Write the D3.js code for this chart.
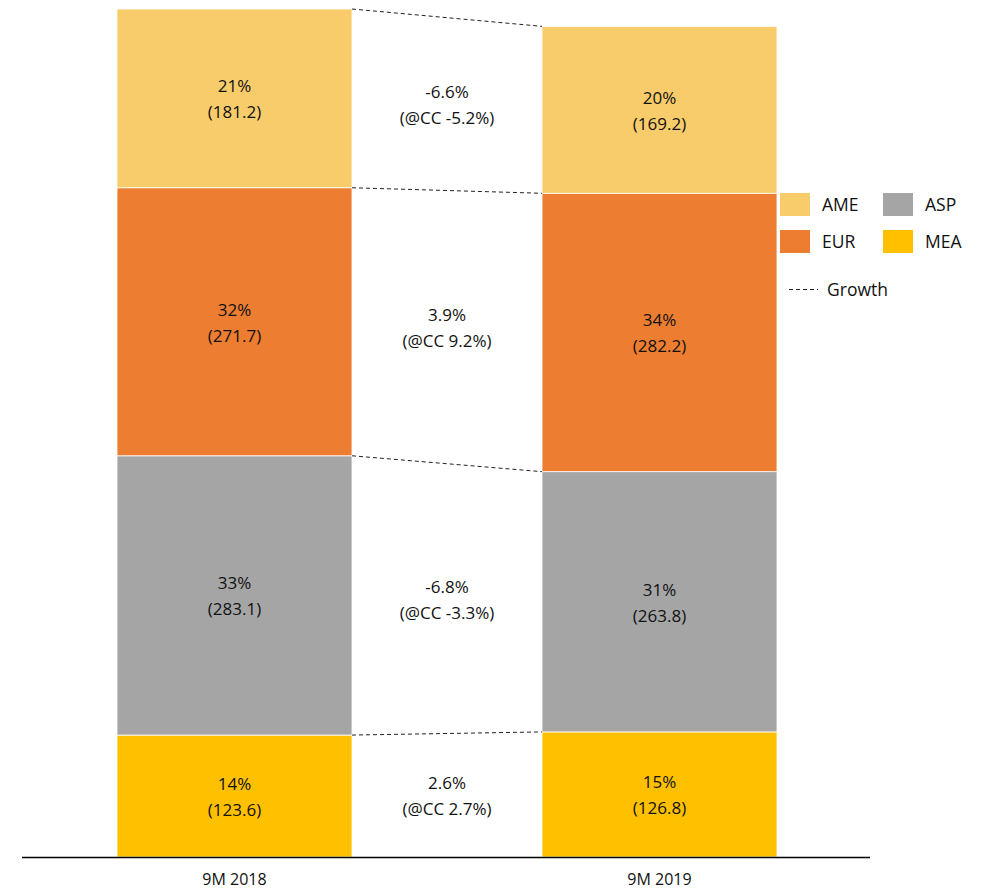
<!DOCTYPE html>
<html><head><meta charset="utf-8">
<script src="https://cdn.jsdelivr.net/npm/d3@7"></script>
<style>body{margin:0;background:#fff}svg{display:block}text{font-family:"Open Sans","Noto Sans",sans-serif;fill:#111}</style>
</head><body><svg id="c" width="984" height="890"></svg>
<script>
const periods = ["9M 2018", "9M 2019"];
const regions = ["MEA", "ASP", "EUR", "AME"]; // bottom to top
const values2018 = [123.6, 283.1, 271.7, 181.2];
const values2019 = [126.8, 263.8, 282.2, 169.2];
const shares2018 = ["14%", "33%", "32%", "21%"];
const shares2019 = ["15%", "31%", "34%", "20%"];
const growth = ["2.6%", "-6.8%", "3.9%", "-6.6%"];
const growthCC = ["(@CC 2.7%)", "(@CC -3.3%)", "(@CC 9.2%)", "(@CC -5.2%)"];
const colors = {AME:"#F9CC6B", EUR:"#ED7D31", ASP:"#A5A5A5", MEA:"#FFC000"};
const legendOrder = ["AME", "ASP", "EUR", "MEA"];

const svg = d3.select("#c");
const total2018 = d3.sum(values2018);
const y = d3.scaleLinear().domain([0, total2018]).range([857, 9]);
const xs = d3.scalePoint().domain(periods).range([117, 542]);
const bw = 235;
const fs = 17;

const seriesVals = [values2018, values2019];
const seriesShares = [shares2018, shares2019];
const stacks = seriesVals.map(v => {
  let acc = 0; return v.map(d => { const s = {y0: acc, y1: acc + d, v: d}; acc += d; return s; });
});

periods.forEach((p, pi) => {
  const g = svg.append("g");
  stacks[pi].forEach((s, i) => {
    g.append("rect").attr("x", xs(p)).attr("width", bw)
      .attr("y", y(s.y1)).attr("height", y(s.y0) - y(s.y1))
      .attr("fill", colors[regions[i]]).attr("stroke", "#fff").attr("stroke-width", 0.8);
    const cy = (y(s.y0) + y(s.y1)) / 2;
    const t = g.append("text").attr("text-anchor", "middle").attr("font-size", fs);
    t.append("tspan").attr("x", xs(p) + bw/2).attr("y", cy - 6).text(seriesShares[pi][i]);
    t.append("tspan").attr("x", xs(p) + bw/2).attr("y", cy + 20).text("(" + s.v.toFixed(1) + ")");
  });
});

// growth connectors
regions.forEach((r, i) => {
  const a = stacks[0][i], b = stacks[1][i];
  svg.append("line").attr("x1", xs(periods[0]) + bw).attr("x2", xs(periods[1]))
    .attr("y1", y(a.y1)).attr("y2", y(b.y1))
    .attr("stroke", "#222").attr("stroke-width", 1).attr("stroke-dasharray", "4,3");
  const cy = ((y(a.y0) + y(a.y1)) / 2 + (y(b.y0) + y(b.y1)) / 2) / 2;
  const cx = (xs(periods[0]) + bw + xs(periods[1])) / 2;
  const t = svg.append("text").attr("text-anchor", "middle").attr("font-size", fs);
  t.append("tspan").attr("x", cx).attr("y", cy - 6).text(growth[i]);
  t.append("tspan").attr("x", cx).attr("y", cy + 20).text(growthCC[i]);
});

// baseline axis
svg.append("line").attr("x1", 22).attr("x2", 870).attr("y1", 857.5).attr("y2", 857.5)
  .attr("stroke", "#000").attr("stroke-width", 1.5);
periods.forEach(p => {
  svg.append("text").attr("x", xs(p) + bw/2).attr("y", 885).attr("text-anchor", "middle")
    .attr("font-size", 16).text(p);
});

// legend
legendOrder.forEach((r, i) => {
  const lx = 780 + (i % 2) * 103, ly = 193 + Math.floor(i / 2) * 37;
  svg.append("rect").attr("x", lx).attr("y", ly).attr("width", 30).attr("height", 23).attr("fill", colors[r]);
  svg.append("text").attr("x", lx + 42).attr("y", ly + 18).attr("font-size", 17.5).text(r);
});
svg.append("line").attr("x1", 789).attr("x2", 818).attr("y1", 289.5).attr("y2", 289.5)
  .attr("stroke", "#222").attr("stroke-dasharray", "4,3");
svg.append("text").attr("x", 827).attr("y", 296).attr("font-size", 17.5).text("Growth");
</script></body></html>
